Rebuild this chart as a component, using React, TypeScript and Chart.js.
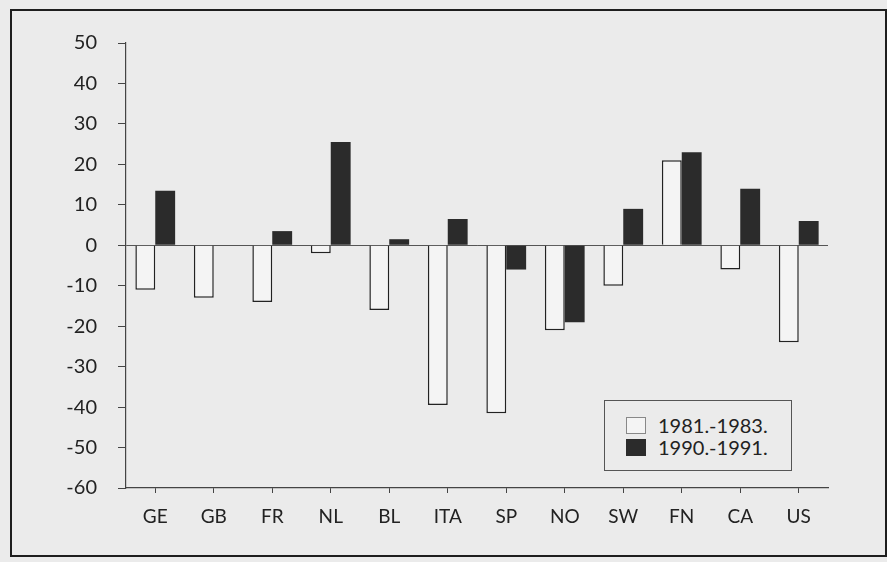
import React, { useEffect, useRef } from "react";
import { Chart, registerables } from "chart.js";

Chart.register(...registerables);

const categories = ["GE", "GB", "FR", "NL", "BL", "ITA", "SP", "NO", "SW", "FN", "CA", "US"];
const series1Label = "1981.-1983.";
const series2Label = "1990.-1991.";
const series1 = [-11, -13, -14, -2, -16, -39.5, -41.5, -21, -10, 21, -6, -24];
const series2 = [13.5, null, 3.5, 25.5, 1.5, 6.5, -6, -19, 9, 23, 14, 6];
const yMin = -60;
const yMax = 50;
const yStep = 10;

const BG = "#ebebeb";
const INK = "#222222";
const DARK = "#2b2b2b";
const FONT = "Lato, 'DejaVu Sans', sans-serif";

export default function App() {
  const canvasRef = useRef<HTMLCanvasElement | null>(null);

  useEffect(() => {
    document.body.style.margin = "0";
    document.body.style.background = BG;
    const canvas = canvasRef.current;
    if (!canvas) return;
    const chart = new Chart(canvas, {
      type: "bar",
      data: {
        labels: categories,
        datasets: [
          {
            label: series1Label,
            data: series1,
            backgroundColor: "#f4f4f4",
            borderColor: INK,
            borderWidth: 1.5,
            categoryPercentage: 0.68,
            barPercentage: 1.0,
          },
          {
            label: series2Label,
            data: series2 as any,
            backgroundColor: DARK,
            borderColor: DARK,
            borderWidth: 0,
            categoryPercentage: 0.68,
            barPercentage: 1.0,
          },
        ],
      },
      options: {
        responsive: false,
        animation: false,
        devicePixelRatio: 1,
        layout: { padding: { left: 0, top: 43, right: 59, bottom: 0 } },
        plugins: {
          legend: { display: false },
          tooltip: { enabled: false },
        },
        scales: {
          x: {
            afterFit: (scale: any) => {
              scale.height = 74;
            },
            grid: {
              offset: false,
              drawOnChartArea: false,
              drawTicks: true,
              tickLength: 5,
              tickColor: "#444",
              lineWidth: 1,
            },
            border: { display: true, color: "#444", width: 1.2 },
            ticks: {
              color: INK,
              font: { family: FONT, size: 19 },
              padding: 12,
              maxRotation: 0,
              autoSkip: false,
            },
          },
          y: {
            min: yMin,
            max: yMax,
            afterFit: (scale: any) => {
              scale.width = 126;
            },
            grid: {
              drawOnChartArea: true,
              drawTicks: true,
              tickLength: 8,
              tickColor: "#444",
              color: (ctx: any) => (ctx.tick && ctx.tick.value === 0 ? "#555" : "rgba(0,0,0,0)"),
              lineWidth: 1,
            },
            border: { display: true, color: "#444", width: 1.2 },
            ticks: {
              stepSize: yStep,
              color: INK,
              font: { family: FONT, size: 20 },
              padding: 21,
            },
          },
        },
      },
    });
    return () => chart.destroy();
  }, []);

  const legendItems = [
    { label: series1Label, fill: "#f4f4f4", border: "1px solid #888" },
    { label: series2Label, fill: DARK, border: "1px solid " + DARK },
  ];

  return (
    <div style={{ position: "relative", width: 887, height: 562, background: BG, overflow: "hidden" }}>
      <div
        style={{
          position: "absolute",
          left: 10,
          top: 9,
          width: 873,
          height: 544,
          border: "2px solid #1e1e1e",
        }}
      />
      <canvas ref={canvasRef} width={887} height={562} style={{ position: "absolute", left: 0, top: 0 }} />
      <div
        style={{
          position: "absolute",
          left: 604,
          top: 400,
          width: 186,
          height: 69,
          border: "1px solid #555",
          background: BG,
          fontFamily: FONT,
          fontSize: 20,
          color: INK,
        }}
      >
        {legendItems.map((it, i) => (
          <div
            key={i}
            style={{
              position: "absolute",
              left: 21,
              top: 13 + i * 22,
              height: 22,
              display: "flex",
              alignItems: "center",
              whiteSpace: "nowrap",
            }}
          >
            <span
              style={{
                display: "inline-block",
                width: 20,
                height: 17,
                boxSizing: "border-box",
                background: it.fill,
                border: it.border,
                marginRight: 12,
              }}
            />
            <span>{it.label}</span>
          </div>
        ))}
      </div>
    </div>
  );
}
